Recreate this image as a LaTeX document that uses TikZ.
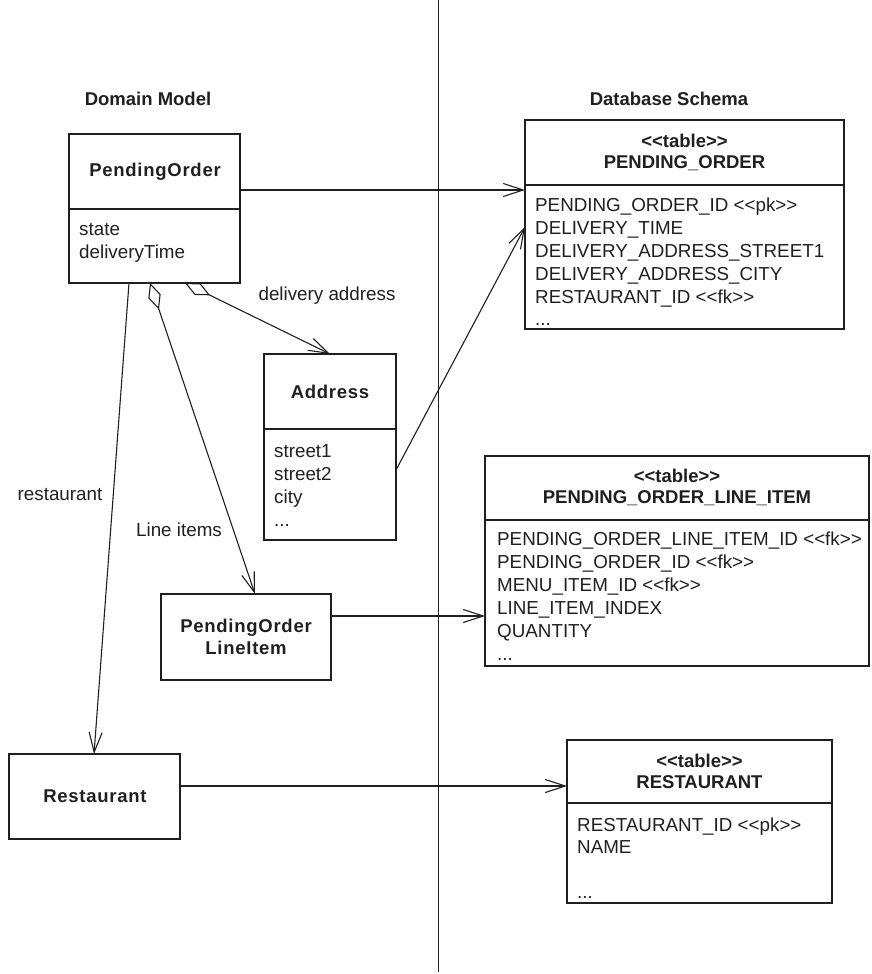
\documentclass[tikz,border=0pt]{standalone}
\usepackage{fontspec}
\newfontfamily\basefont{Liberation Sans}
\newfontfamily\clsfont{Liberation Sans}[LetterSpace=4]
\usetikzlibrary{arrows.meta}

\begin{document}
\begin{tikzpicture}[x=1pt,y=-1pt,
  box/.style={draw=black!88, line width=1.8pt, anchor=north west, inner sep=0pt, outer sep=0pt},
  sepline/.style={draw=black!88, line width=1.5pt},
  link/.style={draw=black!88, line width=1.1pt},
  navarrow/.style={link, -{Straight Barb[length=20pt,width=13pt]}},
  aggarrow/.style={link, {Diamond[open,length=28pt,width=13pt]}-{Straight Barb[length=20pt,width=13pt]}},
  txt/.style={font=\basefont\fontsize{18.8}{22}\selectfont, text=black!88, inner sep=0pt, anchor=base west},
  lbl/.style={font=\basefont\fontsize{18.8}{22}\selectfont, text=black!88, inner sep=0pt},
  hd/.style={font=\basefont\bfseries\fontsize{18.5}{22}\selectfont, text=black!88, inner sep=0pt},
  cls/.style={font=\clsfont\bfseries\fontsize{18.5}{22}\selectfont, text=black!88, inner sep=0pt, align=center},
  tbl/.style={font=\basefont\bfseries\fontsize{18.5}{21}\selectfont, text=black!88, inner sep=0pt, align=center},
]
\useasboundingbox (0,0) rectangle (871,974);

% divider between the two halves
\coordinate (divTop) at (438,0);
\coordinate (divBot) at (438,972);
\draw[link, line width=1pt] (divTop) -- (divBot);

% headings
\node[hd] (hdDomain) at (148,99) {Domain Model};
\node[hd] (hdDb) at (669,99) {Database Schema};

% ---------- domain classes ----------
\node[box, minimum width=171pt, minimum height=149pt] (po) at (69,134) {};
\draw[sepline] (69,209) -- (240,209);
\node[cls] (poTitle) at (155,172) {PendingOrder};
\node[txt] (poA1) at (79,235) {state};
\node[txt] (poA2) at (79,258) {deliveryTime};

\node[box, minimum width=132pt, minimum height=186pt] (adr) at (264,354) {};
\draw[sepline] (264,429) -- (396,429);
\node[cls] (adrTitle) at (330,392) {Address};
\node[txt] (adrA1) at (274,457) {street1};
\node[txt] (adrA2) at (274,480) {street2};
\node[txt] (adrA3) at (274,503) {city};
\node[txt] (adrA4) at (274,526) {...};

\node[box, minimum width=170pt, minimum height=86pt] (poli) at (161,594) {};
\node[cls] (poliTitle) at (246,637) {PendingOrder\\LineItem};

\node[box, minimum width=171pt, minimum height=85pt] (rest) at (9,754) {};
\node[cls] (restTitle) at (95,796) {Restaurant};

% ---------- tables ----------
\node[box, minimum width=319pt, minimum height=209pt] (poTab) at (525,120) {};
\draw[sepline] (525,185) -- (844,185);
\node[tbl] (poTabTitle) at (684.5,152) {<<table>>\\PENDING\_ORDER};
\node[txt] (poC1) at (535,211) {PENDING\_ORDER\_ID <<pk>>};
\node[txt] (poC2) at (535,234) {DELIVERY\_TIME};
\node[txt] (poC3) at (535,257) {DELIVERY\_ADDRESS\_STREET1};
\node[txt] (poC4) at (535,280) {DELIVERY\_ADDRESS\_CITY};
\node[txt] (poC5) at (535,303) {RESTAURANT\_ID <<fk>>};
\node[txt] (poC6) at (535,325) {...};

\node[box, minimum width=384pt, minimum height=210pt] (poliTab) at (485,456) {};
\draw[sepline] (485,520) -- (869,520);
\node[tbl] (poliTabTitle) at (677,487.5) {<<table>>\\PENDING\_ORDER\_LINE\_ITEM};
\node[txt] (poliC1) at (497,545) {PENDING\_ORDER\_LINE\_ITEM\_ID <<fk>>};
\node[txt] (poliC2) at (497,568) {PENDING\_ORDER\_ID <<fk>>};
\node[txt] (poliC3) at (497,591) {MENU\_ITEM\_ID <<fk>>};
\node[txt] (poliC4) at (497,614) {LINE\_ITEM\_INDEX};
\node[txt] (poliC5) at (497,637) {QUANTITY};
\node[txt] (poliC6) at (497,660) {...};

\node[box, minimum width=265pt, minimum height=163pt] (restTab) at (567,740) {};
\draw[sepline] (567,803) -- (832,803);
\node[tbl] (restTabTitle) at (699.5,771.5) {<<table>>\\RESTAURANT};
\node[txt] (restC1) at (577,831) {RESTAURANT\_ID <<pk>>};
\node[txt] (restC2) at (577,853) {NAME};
\node[txt] (restC3) at (577,898) {...};

% ---------- associations inside the domain model ----------
\coordinate (poAddr) at (185,283);
\coordinate (adrIn) at (330,354);
\draw[aggarrow] (poAddr) -- (adrIn);
\node[lbl] (lblAddr) at (327,296) {delivery address};

\coordinate (poItems) at (150,283);
\coordinate (poliIn) at (255,594);
\draw[aggarrow] (poItems) -- (poliIn);
\node[lbl] (lblItems) at (179,530) {Line items};

\coordinate (poRest) at (129,283);
\coordinate (restIn) at (94,754);
\draw[navarrow] (poRest) -- (restIn);
\node[lbl] (lblRest) at (60,495) {restaurant};

% ---------- mappings to the tables ----------
\coordinate (poOut) at (240,190);
\draw[navarrow] (poOut) -- (poTab.west |- poOut);

\coordinate (adrOut) at (396,470);
\coordinate (poTabIn) at (525,227);
\draw[navarrow] (adrOut) -- (poTabIn);

\coordinate (poliOut) at (331,616);
\draw[navarrow] (poliOut) -- (poliTab.west |- poliOut);

\coordinate (restOut) at (180,786);
\draw[navarrow] (restOut) -- (restTab.west |- restOut);
\end{tikzpicture}
\end{document}
